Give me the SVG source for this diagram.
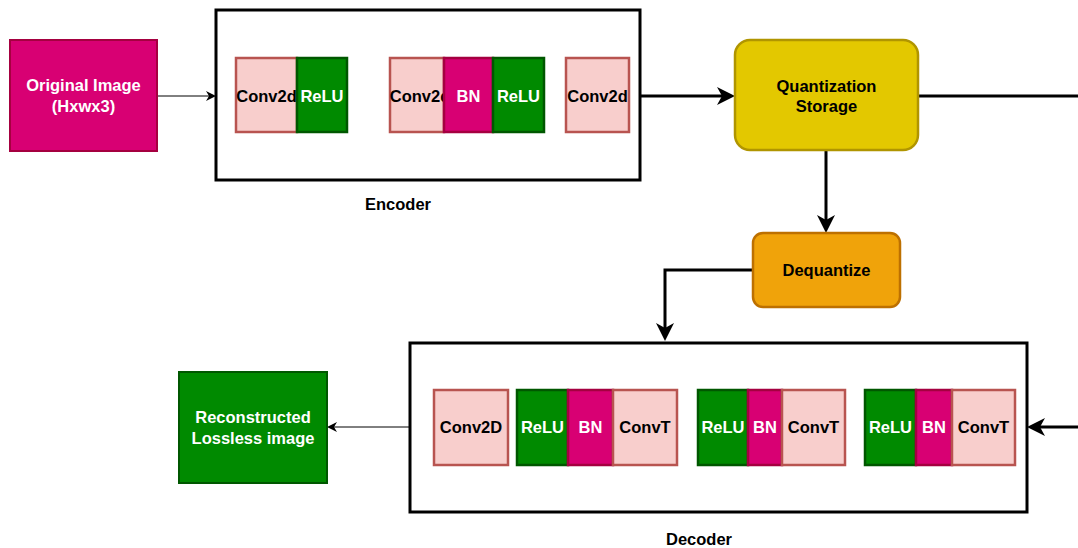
<svg xmlns="http://www.w3.org/2000/svg" width="1078" height="548" viewBox="0 0 1078 548">
  <style>
    text { font-family: "Liberation Sans", Arial, sans-serif; font-weight: bold; font-size: 16.5px; text-anchor: middle; dominant-baseline: central; }
    .lt { fill: #ffffff; }
    .dk { fill: #000000; }
    .conv { fill: #f8cecc; stroke: #b85450; stroke-width: 2.5; }
    .relu { fill: #008a00; stroke: #005700; stroke-width: 2.5; }
    .bn { fill: #d80073; stroke: #a50040; stroke-width: 2.5; }
    .frame { fill: #ffffff; stroke: #000000; stroke-width: 3; }
    .thick { fill: none; stroke: #000000; stroke-width: 3; }
    .thin { fill: none; stroke: #000000; stroke-width: 1; }
  </style>
  <defs>
    <marker id="headThick" viewBox="0 0 18 18" refX="8" refY="9" markerWidth="18" markerHeight="18" markerUnits="userSpaceOnUse" orient="auto">
      <path d="M0,0 L18,9 L0,18 L5,9 z" fill="#000000"/>
    </marker>
    <marker id="headThin" viewBox="0 0 10 10" refX="5" refY="5" markerWidth="10" markerHeight="10" markerUnits="userSpaceOnUse" orient="auto">
      <path d="M0,0 L10,5 L0,10 L3,5 z" fill="#000000"/>
    </marker>
  </defs>

  <!-- connectors -->
  <g id="connectors">
    <path class="thin" d="M157,96 H211" marker-end="url(#headThin)"/>
    <path class="thick" d="M640,96 H725" marker-end="url(#headThick)"/>
    <path class="thick" d="M918,96 H1078"/>
    <path class="thick" d="M826,150 V223" marker-end="url(#headThick)"/>
    <path class="thick" d="M753,270 H665 V331" marker-end="url(#headThick)"/>
    <path class="thick" d="M1078,427 H1037" marker-end="url(#headThick)"/>
    <path class="thin" d="M409,427 H332" marker-end="url(#headThin)"/>
  </g>

  <!-- input image -->
  <g id="original-image">
    <rect x="10" y="40" width="147" height="111" fill="#d80073" stroke="#a50040" stroke-width="2"/>
    <text class="lt" x="83.5" y="85">Original Image</text>
    <text class="lt" x="83.5" y="106">(Hxwx3)</text>
  </g>

  <!-- encoder -->
  <g id="encoder">
    <rect class="frame" x="216" y="10" width="424" height="170"/>
    <rect class="conv" x="236" y="58" width="61" height="74"/>
    <text class="dk" x="266.5" y="96">Conv2d</text>
    <rect class="relu" x="297" y="58" width="50" height="74"/>
    <text class="lt" x="322" y="96">ReLU</text>

    <rect class="conv" x="390" y="58" width="54" height="74"/>
    <text class="dk" x="420" y="96">Conv2d</text>
    <rect class="bn" x="444" y="58" width="49" height="74"/>
    <text class="lt" x="468.5" y="96">BN</text>
    <rect class="relu" x="493" y="58" width="51" height="74"/>
    <text class="lt" x="518.5" y="96">ReLU</text>

    <rect class="conv" x="566" y="58" width="63" height="74"/>
    <text class="dk" x="597.5" y="96">Conv2d</text>
  </g>
  <g id="encoder-label">
    <text class="dk" x="398" y="204">Encoder</text>
  </g>

  <!-- quantization -->
  <g id="quantization-storage">
    <rect x="735" y="40" width="183" height="110" rx="15" ry="15" fill="#e3c800" stroke="#b09500" stroke-width="2.5"/>
    <text class="dk" x="826.5" y="86">Quantization</text>
    <text class="dk" x="826.5" y="106">Storage</text>
  </g>

  <g id="dequantize">
    <rect x="753" y="233" width="147" height="74" rx="10" ry="10" fill="#f0a30a" stroke="#bd7000" stroke-width="2.5"/>
    <text class="dk" x="826.5" y="270">Dequantize</text>
  </g>

  <!-- decoder -->
  <g id="decoder">
    <rect class="frame" x="410" y="343" width="617" height="169"/>
    <rect class="conv" x="434" y="390" width="74" height="75"/>
    <text class="dk" x="471" y="427">Conv2D</text>

    <rect class="relu" x="517" y="390" width="51" height="75"/>
    <text class="lt" x="542.5" y="427">ReLU</text>
    <rect class="bn" x="568" y="390" width="45" height="75"/>
    <text class="lt" x="590.5" y="427">BN</text>
    <rect class="conv" x="613" y="390" width="64" height="75"/>
    <text class="dk" x="645" y="427">ConvT</text>

    <rect class="relu" x="698" y="390" width="50" height="75"/>
    <text class="lt" x="723" y="427">ReLU</text>
    <rect class="bn" x="748" y="390" width="34" height="75"/>
    <text class="lt" x="765" y="427">BN</text>
    <rect class="conv" x="782" y="390" width="63" height="75"/>
    <text class="dk" x="813.5" y="427">ConvT</text>

    <rect class="relu" x="865" y="390" width="51" height="75"/>
    <text class="lt" x="890.5" y="427">ReLU</text>
    <rect class="bn" x="916" y="390" width="36" height="75"/>
    <text class="lt" x="934" y="427">BN</text>
    <rect class="conv" x="952" y="390" width="63" height="75"/>
    <text class="dk" x="983.5" y="427">ConvT</text>
  </g>
  <g id="decoder-label">
    <text class="dk" x="699" y="539">Decoder</text>
  </g>

  <!-- output image -->
  <g id="reconstructed-image">
    <rect x="179" y="372" width="148" height="111" fill="#008a00" stroke="#005700" stroke-width="2"/>
    <text class="lt" x="253" y="417">Reconstructed</text>
    <text class="lt" x="253" y="438">Lossless image</text>
  </g>
</svg>
